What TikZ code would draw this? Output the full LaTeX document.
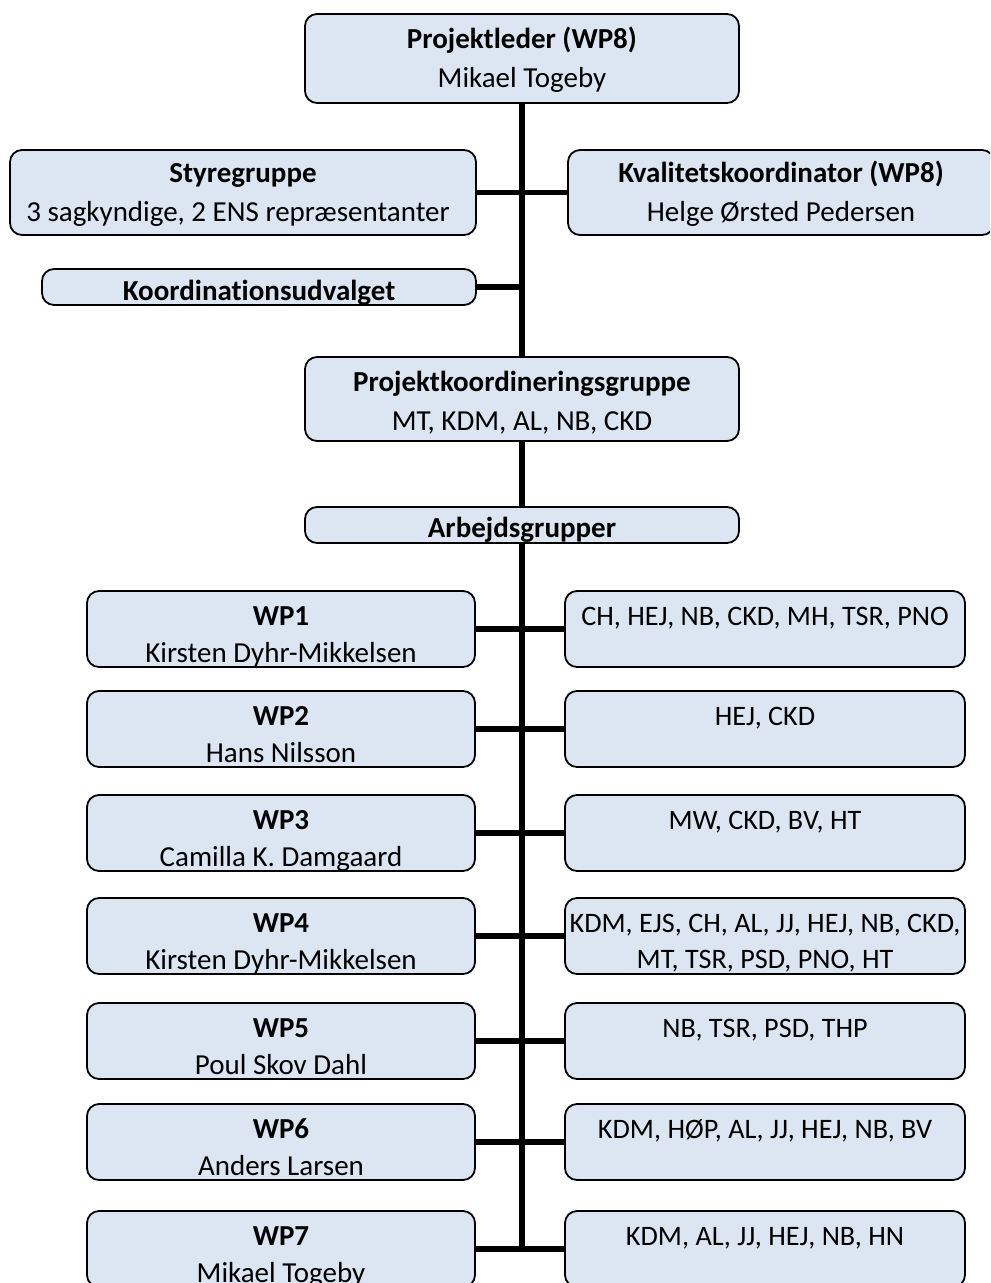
\documentclass[tikz,border=0pt]{standalone}
\usepackage{fontspec}
\setmainfont{Carlito}[Ligatures=NoCommon]
\usetikzlibrary{backgrounds}
\definecolor{boxfill}{HTML}{DCE6F2}
\tikzset{
  x=0.5pt, y=-0.5pt,
  orgbox/.style={fill=boxfill, draw=black, line width=0.9pt, rounded corners=6pt, inner sep=0pt},
  orgline/.style={line width=2.8pt, black},
  boldtxt/.style={anchor=base, inner sep=0pt, font=\bfseries\fontsize{14.5}{17}\selectfont},
  regtxt/.style={anchor=base, inner sep=0pt, font=\fontsize{14.5}{17}\selectfont},
  memtxt/.style={anchor=base, inner sep=0pt, font=\fontsize{14.1}{17}\selectfont},
}
% box: name, x1, y1, x2, y2
\newcommand\obox[5]{%
  \node[orgbox, minimum width={(#4-#2)*0.5pt}, minimum height={(#5-#3)*0.5pt}]
    (#1) at ({(#2+#4)/2},{(#3+#5)/2}) {};}
% text: box, id, baseline y, style, text
\newcommand\otext[5]{%
  \begin{scope}
    \clip[rounded corners=5pt] ([xshift=0.5pt,yshift=0.5pt]#1.south west) rectangle ([xshift=-0.5pt,yshift=-0.5pt]#1.north east);
    \node[#4] (#1-#2) at (#1.center |- 0,#3) {#5};
  \end{scope}}
\begin{document}
\begin{tikzpicture}
\useasboundingbox (0,0) rectangle (990,1283);
\clip (0,0) rectangle (990,1283);

% top boxes
\obox{pl}{305}{14}{739}{103}
\otext{pl}{a}{49}{boldtxt}{Projektleder (WP8)}
\otext{pl}{b}{88}{regtxt}{Mikael Togeby}

\obox{styr}{10}{150}{476}{235}
\otext{styr}{a}{183}{boldtxt}{Styregruppe}
\begin{scope}
  \clip[rounded corners=5pt] ([xshift=0.5pt,yshift=0.5pt]styr.south west) rectangle ([xshift=-0.5pt,yshift=-0.5pt]styr.north east);
  \node[regtxt] (styr-b) at (238,222) {3 sagkyndige, 2 ENS repræsentanter};
\end{scope}

\obox{kval}{568}{150}{994}{235}
\otext{kval}{a}{183}{boldtxt}{Kvalitetskoordinator (WP8)}
\otext{kval}{b}{222}{regtxt}{Helge Ørsted Pedersen}

\obox{koord}{42}{269}{476}{305}
\otext{koord}{a}{300}{boldtxt}{Koordinationsudvalget}

\obox{pkg}{305}{357}{739}{441}
\otext{pkg}{a}{391}{boldtxt}{Projektkoordineringsgruppe}
\otext{pkg}{b}{430}{regtxt}{MT, KDM, AL, NB, CKD}

\obox{arb}{305}{507}{739}{543}
\otext{arb}{a}{537}{boldtxt}{Arbejdsgrupper}

% work packages
\newcommand\wprow[6]{% id, top, name, person, members line 1, members line 2
  \obox{#1}{87}{#2}{475}{#2+76}
  \otext{#1}{a}{#2+34}{boldtxt}{#3}
  \otext{#1}{b}{#2+71}{regtxt}{#4}
  \obox{#1r}{565}{#2}{965}{#2+76}
  \otext{#1r}{a}{#2+34}{memtxt}{#5}
  \otext{#1r}{b}{#2+70}{memtxt}{#6}
}
\wprow{wp1}{591}{WP1}{Kirsten Dyhr-Mikkelsen}{CH, HEJ, NB, CKD, MH, TSR, PNO}{}
\wprow{wp2}{691}{WP2}{Hans Nilsson}{HEJ, CKD}{}
\wprow{wp3}{795}{WP3}{Camilla K. Damgaard}{MW, CKD, BV, HT}{}
\wprow{wp4}{898}{WP4}{Kirsten Dyhr-Mikkelsen}{KDM, EJS, CH, AL, JJ, HEJ, NB, CKD,}{MT, TSR, PSD, PNO, HT}
\wprow{wp5}{1003}{WP5}{Poul Skov Dahl}{NB, TSR, PSD, THP}{}
\wprow{wp6}{1104}{WP6}{Anders Larsen}{KDM, HØP, AL, JJ, HEJ, NB, BV}{}
\wprow{wp7}{1211}{WP7}{Mikael Togeby}{KDM, AL, JJ, HEJ, NB, HN}{}

% connectors
\begin{scope}[on background layer]
  \draw[orgline] (pl.south) -- (wp7.east -| pl.south);
  \draw[orgline] (styr.east) -- (kval.west);
  \draw[orgline] (koord.east) -- (koord.east -| pl.south);
  \foreach \w in {wp1,wp2,wp3,wp4,wp5,wp6,wp7}
    \draw[orgline] (\w.east) -- (\w r.west);
\end{scope}
\end{tikzpicture}
\end{document}
